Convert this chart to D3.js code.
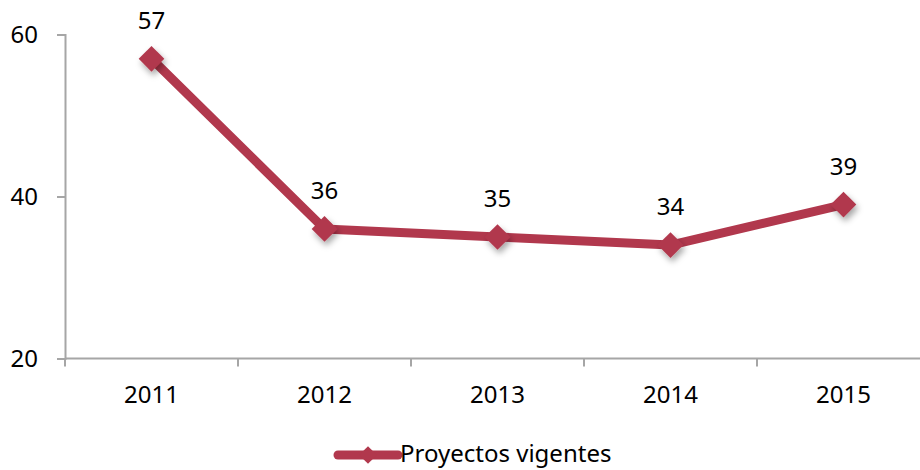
<!DOCTYPE html>
<html>
<head>
<meta charset="utf-8">
<script src="https://d3js.org/d3.v7.min.js"></script>
<style>
  body { margin: 0; background: #fff; }
  text { font-family: "Noto Sans", sans-serif; fill: #000; }
</style>
</head>
<body>
<svg width="920" height="470"></svg>
<script>
// data
const years = ['2011', '2012', '2013', '2014', '2015'];
const proyectos = [57, 36, 35, 34, 39];
const yTicks = [20, 40, 60];
const seriesName = 'Proyectos vigentes';

const svg = d3.select('svg');
const color = '#b1384d';
const axisColor = '#a6a6a6';

const margin = { left: 65, top: 34.5 };
const innerWidth = 865;
const innerHeight = 324;

const x = d3.scaleBand().domain(years).range([0, innerWidth]);
const y = d3.scaleLinear().domain([20, 60]).range([innerHeight, 0]);

const g = svg.append('g')
    .attr('transform', `translate(${margin.left},${margin.top})`);

// shadow for markers
const defs = svg.append('defs');
const f = defs.append('filter').attr('id', 'shadow')
    .attr('x', '-50%').attr('y', '-50%').attr('width', '200%').attr('height', '200%');
f.append('feDropShadow').attr('dx', 2).attr('dy', 4).attr('stdDeviation', 3)
    .attr('flood-color', '#000').attr('flood-opacity', 0.35);

// y axis
const yAxis = d3.axisLeft(y).tickValues(yTicks).tickSize(8).tickPadding(19);
const yAxisG = g.append('g').call(yAxis);
yAxisG.select('.domain').attr('stroke', axisColor).attr('stroke-width', 2);
yAxisG.selectAll('.tick line').attr('stroke', axisColor).attr('stroke-width', 2);
yAxisG.selectAll('.tick text').style('font-size', '24px');

// x axis
const xAxisG = g.append('g').attr('transform', `translate(0,${innerHeight})`);
xAxisG.append('line')
    .attr('x1', 0).attr('x2', innerWidth)
    .attr('stroke', axisColor).attr('stroke-width', 2);
const boundaries = years.map(d => x(d)).concat([innerWidth]);
xAxisG.selectAll('.xtick').data(boundaries).enter().append('line')
    .attr('x1', d => d).attr('x2', d => d)
    .attr('y1', 0).attr('y2', 8)
    .attr('stroke', axisColor).attr('stroke-width', 2);
xAxisG.selectAll('.xlabel').data(years).enter().append('text')
    .attr('x', d => x(d) + x.bandwidth() / 2)
    .attr('y', 44)
    .attr('text-anchor', 'middle')
    .style('font-size', '24px')
    .text(d => d);

const pts = years.map((d, i) => ({ year: d, value: proyectos[i] }));
const cx = d => x(d.year) + x.bandwidth() / 2;

// line
g.append('path')
    .datum(pts)
    .attr('fill', 'none')
    .attr('stroke', color)
    .attr('stroke-width', 9)
    .attr('stroke-linejoin', 'round')
    .attr('d', d3.line().x(cx).y(d => y(d.value)));

// markers
const diamond = d3.symbol().type(d3.symbolDiamond2).size(420);
g.selectAll('.marker').data(pts).enter().append('path')
    .attr('transform', d => `translate(${cx(d)},${y(d.value)})`)
    .attr('d', diamond)
    .attr('fill', color)
    .attr('filter', 'url(#shadow)');

// labels
g.selectAll('.label').data(pts).enter().append('text')
    .attr('x', cx)
    .attr('y', d => y(d.value) - 30)
    .attr('text-anchor', 'middle')
    .style('font-size', '24px')
    .text(d => d.value);

// legend
const lg = svg.append('g').attr('transform', 'translate(338,455)');
lg.append('line').attr('x1', 0).attr('x2', 60)
    .attr('stroke', color).attr('stroke-width', 9).attr('stroke-linecap', 'round');
lg.append('path').attr('transform', 'translate(30,0)')
    .attr('d', d3.symbol().type(d3.symbolDiamond2).size(200))
    .attr('fill', color);
lg.append('text').attr('x', 62).attr('y', 7)
    .style('font-size', '24px')
    .text(seriesName);
</script>
</body>
</html>
